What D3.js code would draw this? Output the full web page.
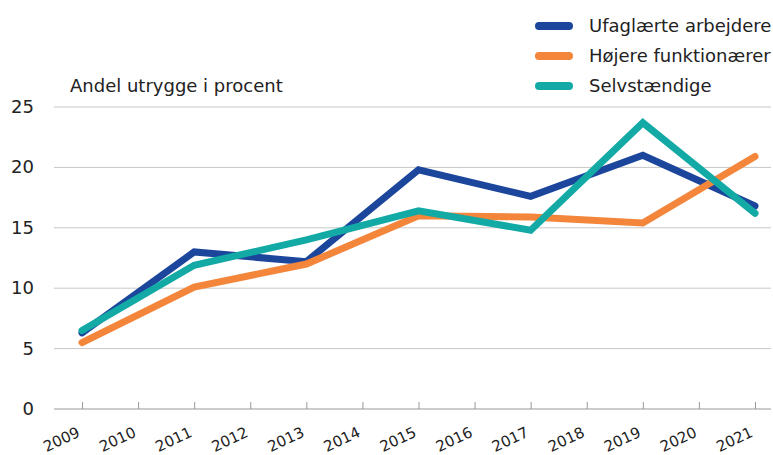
<!DOCTYPE html>
<html>
<head>
<meta charset="utf-8">
<script src="https://cdn.jsdelivr.net/npm/d3@7"></script>
<style>
  body { margin: 0; background: #fff; }
  text { font-family: "DejaVu Sans", sans-serif; fill: #222; }
</style>
</head>
<body>
<div id="chart"></div>
<script>
// data
const years = ["2009","2010","2011","2012","2013","2014","2015","2016","2017","2018","2019","2020","2021"];
const dataYears = ["2009","2011","2013","2015","2017","2019","2021"];
const ufaglaerte = [6.3, 13.0, 12.2, 19.8, 17.6, 21.0, 16.8];
const hojere = [5.5, 10.1, 12.0, 16.0, 15.9, 15.4, 20.9];
const selvstaendige = [6.5, 11.9, 14.0, 16.4, 14.8, 23.7, 16.2];
const seriesNames = ["Ufaglærte arbejdere", "Højere funktionærer", "Selvstændige"];
const yTicks = [0, 5, 10, 15, 20, 25];

const colors = ["#1b469b", "#f3863b", "#13aaa6"];
const series = [ufaglaerte, hojere, selvstaendige];

const W = 773, H = 455;
const svg = d3.select("#chart").append("svg")
    .attr("width", W).attr("height", H);

const x = d3.scalePoint().domain(years).range([82, 755]);
const y = d3.scaleLinear().domain([0, 25]).range([409, 107]);

// gridlines
svg.append("g")
    .selectAll("line")
    .data(yTicks.filter(d => d > 0))
    .enter().append("line")
    .attr("x1", 54).attr("x2", 771)
    .attr("y1", d => y(d)).attr("y2", d => y(d))
    .attr("stroke", "#c8c8c8").attr("stroke-width", 1);

// y labels
svg.append("g")
    .selectAll("text")
    .data(yTicks)
    .enter().append("text")
    .attr("x", 34).attr("y", d => y(d) + 6)
    .attr("text-anchor", "end")
    .style("font-size", "18px")
    .text(d => d);

// x axis
const xAxis = svg.append("g")
    .attr("transform", `translate(0,${y(0)})`)
    .call(d3.axisTop(x).tickSize(7).tickFormat(""));
xAxis.select(".domain").remove();
xAxis.selectAll("line").attr("stroke", "#999");
svg.append("line")
    .attr("x1", 54).attr("x2", 771)
    .attr("y1", y(0)).attr("y2", y(0))
    .attr("stroke", "#999").attr("stroke-width", 1);

svg.append("g")
    .selectAll("text")
    .data(years)
    .enter().append("text")
    .attr("text-anchor", "end")
    .attr("transform", d => `translate(${x(d) - 1},${y(0) + 27}) rotate(-25)`)
    .style("font-size", "15px")
    .text(d => d);

// axis title
svg.append("text")
    .attr("x", 70).attr("y", 92)
    .style("font-size", "18px")
    .text("Andel utrygge i procent");

// lines
const line = d3.line()
    .x((d, i) => x(dataYears[i]))
    .y(d => y(d));

series.forEach((s, i) => {
    svg.append("path")
        .datum(s)
        .attr("d", line)
        .attr("fill", "none")
        .attr("stroke", colors[i])
        .attr("stroke-width", 7)
        .attr("stroke-linejoin", "miter")
        .attr("stroke-linecap", "round");
});

// legend
const legend = svg.append("g");
seriesNames.forEach((name, i) => {
    const ly = 26 + i * 30;
    legend.append("line")
        .attr("x1", 539).attr("x2", 569)
        .attr("y1", ly).attr("y2", ly)
        .attr("stroke", colors[i])
        .attr("stroke-width", 8)
        .attr("stroke-linecap", "round");
    legend.append("text")
        .attr("x", 589).attr("y", ly + 6)
        .style("font-size", "18px")
        .text(name);
});
</script>
</body>
</html>
